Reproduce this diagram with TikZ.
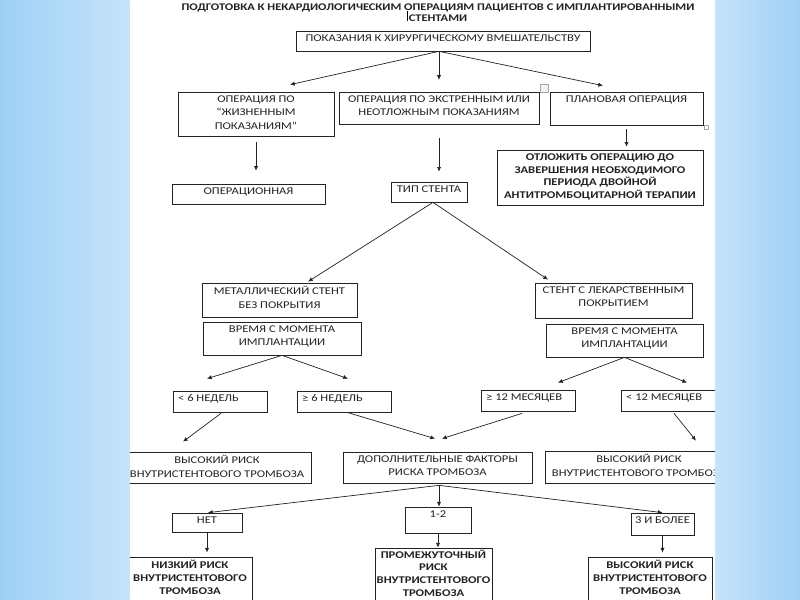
\documentclass[tikz,border=0pt]{standalone}
\usepackage{fontspec}
\setmainfont{Carlito}[FakeStretch=1.22]
\usetikzlibrary{fit,arrows.meta}
\definecolor{slideblue}{RGB}{158,208,246}
\definecolor{slidelight}{RGB}{198,227,250}
\definecolor{inkgray}{RGB}{35,35,35}

\tikzset{
  box/.style={draw=inkgray, line width=0.6pt, inner sep=0pt},
  txt/.style={font=\fontsize{8.8}{11.6}\selectfont, text=inkgray, align=center, inner sep=1.5pt, anchor=north, yshift=-1.5pt},
  btxt/.style={txt, font=\fontsize{8.8}{11}\selectfont\bfseries},
  ltxt/.style={txt, anchor=north west, xshift=3pt},
  arr/.style={draw=inkgray, line width=0.6pt, -{Latex[length=4pt,width=3.6pt]}},
}

\begin{document}
\begin{tikzpicture}[x=0.3mm,y=-0.3mm]
\useasboundingbox (0,0) rectangle (800,600);
\fill[white] (0,0) rectangle (800,600);

\node[btxt, font=\fontsize{8.7}{9.6}\selectfont\bfseries] (titl) at (438,0) {ПОДГОТОВКА К НЕКАРДИОЛОГИЧЕСКИМ ОПЕРАЦИЯМ ПАЦИЕНТОВ С ИМПЛАНТИРОВАННЫМИ\\СТЕНТАМИ};
\draw[line width=0.8pt] (407,11) -- (407,21);

% indications
\node[box, fit={(296,31) (590,51)}, label={[txt]north:ПОКАЗАНИЯ К ХИРУРГИЧЕСКОМУ ВМЕШАТЕЛЬСТВУ}] (pokaz) {};
\node[box, fit={(178,92) (334,136)}, label={[txt]north:{ОПЕРАЦИЯ ПО\\“ЖИЗНЕННЫМ\\ПОКАЗАНИЯМ”}}] (zhizn) {};
\node[box, fit={(339,92) (539,124)}, label={[txt]north:{ОПЕРАЦИЯ ПО ЭКСТРЕННЫМ ИЛИ\\НЕОТЛОЖНЫМ ПОКАЗАНИЯМ}}] (ekstr) {};
\node[box, fit={(550,92) (703,125)}, label={[txt]north:ПЛАНОВАЯ ОПЕРАЦИЯ}] (plan) {};
\draw[gray!70, fill=blue!6] (540,84) rectangle (548,92);
\draw[gray!70, fill=white] (704,125) rectangle (708,129);

\node[box, fit={(172,184) (325,204)}, label={[txt]north:ОПЕРАЦИОННАЯ}] (operac) {};
\node[box, fit={(391,182) (467,202)}, label={[txt]north:ТИП СТЕНТА}] (tip) {};
\node[box, fit={(497,150) (703,205)}, label={[btxt]north:{ОТЛОЖИТЬ ОПЕРАЦИЮ ДО\\ЗАВЕРШЕНИЯ НЕОБХОДИМОГО\\ПЕРИОДА ДВОЙНОЙ\\АНТИТРОМБОЦИТАРНОЙ ТЕРАПИИ}}] (otlozh) {};

% stent type
\node[box, fit={(202,283) (357,317)}, label={[txt]north:{МЕТАЛЛИЧЕСКИЙ СТЕНТ\\БЕЗ ПОКРЫТИЯ}}] (metall) {};
\node[box, fit={(203,322) (361,355)}, label={[txt]north:{ВРЕМЯ С МОМЕНТА\\ИМПЛАНТАЦИИ}}] (vremL) {};
\node[box, fit={(535,283) (692,318)}, label={[txt]north:{СТЕНТ С ЛЕКАРСТВЕННЫМ\\ПОКРЫТИЕМ}}] (lek) {};
\node[box, fit={(546,324) (703,357)}, label={[txt]north:{ВРЕМЯ С МОМЕНТА\\ИМПЛАНТАЦИИ}}] (vremR) {};

% time since implantation
\node[box, fit={(173,391) (267,412)}, label={[ltxt]north west:{< 6 НЕДЕЛЬ}}] (lt6) {};
\node[box, fit={(297,391) (391,412)}, label={[ltxt]north west:{≥ 6 НЕДЕЛЬ}}] (ge6) {};
\node[box, fit={(481,390) (575,411)}, label={[ltxt]north west:{≥ 12 МЕСЯЦЕВ}}] (ge12) {};
\node[box, fit={(621,390) (715,411)}, label={[ltxt]north west:{< 12 МЕСЯЦЕВ}}] (lt12) {};

\node[box, fit={(123,452) (311,483)}, label={[txt]north:{ВЫСОКИЙ РИСК\\ВНУТРИСТЕНТОВОГО ТРОМБОЗА}}] (vysL) {};
\node[box, fit={(343,452) (532,483)}, label={[txt]north:{ДОПОЛНИТЕЛЬНЫЕ ФАКТОРЫ\\РИСКА ТРОМБОЗА}}] (dop) {};
\node[box, fit={(545,451) (733,483)}, label={[txt]north:{ВЫСОКИЙ РИСК\\ВНУТРИСТЕНТОВОГО ТРОМБОЗА}}] (vysR) {};

% risk factors
\node[box, fit={(172,513) (242,532)}, label={[txt]north:НЕТ}] (net) {};
\node[box, fit={(405,507) (471,533)}, label={[txt]north:1-2}] (odin) {};
\node[box, fit={(631,513) (694,535)}, label={[txt]north:3 И БОЛЕЕ}] (tri) {};

\node[box, fit={(128,557) (252,610)}, label={[btxt]north:{НИЗКИЙ РИСК\\ВНУТРИСТЕНТОВОГО\\ТРОМБОЗА}}] (nizk) {};
\node[box, fit={(375,548) (492,610)}, label={[btxt,yshift=1.5pt]north:{ПРОМЕЖУТОЧНЫЙ\\РИСК\\ВНУТРИСТЕНТОВОГО\\ТРОМБОЗА}}] (prom) {};
\node[box, fit={(588,557) (712,610)}, label={[btxt]north:{ВЫСОКИЙ РИСК\\ВНУТРИСТЕНТОВОГО\\ТРОМБОЗА}}] (vysB) {};

% arrows
\coordinate (pk) at ([shift={(-4,0)}]pokaz.south);
\draw[arr] (pk) -- ([shift={(34,-7)}]zhizn.north);
\draw[arr, shorten >=10pt] (pk) -- (pk |- ekstr.north);
\draw[arr] (pk) -- ([shift={(-23.5,-6)}]plan.north);
\draw[arr, shorten <=5pt, shorten >=11pt] (zhizn.south) -- (zhizn.south |- operac.north);
\draw[arr, shorten <=12pt, shorten >=8.5pt] (ekstr.south) -- (ekstr.south |- tip.north);
\draw[arr, shorten <=3.5pt, shorten >=2.5pt] (plan.south) -- (plan.south |- otlozh.north);

\coordinate (tp) at ([shift={(4,0)}]tip.south);
\draw[arr] (tp) -- ([shift={(28.5,-1)}]metall.north);
\draw[arr] (tp) -- ([shift={(-65.5,-3)}]lek.north);

\draw[arr] (vremL.south) -- ([shift={(-13,-12)}]lt6.north);
\draw[arr] (vremL.south) -- ([shift={(4,-12)}]ge6.north);
\draw[arr] (vremR.south) -- ([shift={(30,-7)}]ge12.north);
\draw[arr] (vremR.south) -- ([shift={(19,-7)}]lt12.north);

\draw[arr] ([shift={(1,1)}]lt6.south) -- ([shift={(-34,-10)}]vysL.north);
\draw[arr] ([shift={(3,0)}]ge6.south) -- ([shift={(-2.5,-13)}]dop.north);
\draw[arr] ([shift={(-6,2)}]ge12.south) -- ([shift={(4.5,-13)}]dop.north);
\draw[arr] ([shift={(6,2)}]lt12.south) -- ([shift={(57,-10)}]vysR.north);

\coordinate (dp) at ([shift={(1.5,2)}]dop.south);
\draw[arr] (dp) -- ([shift={(1,0)}]net.north);
\draw[arr] (dp) -- (dp |- odin.north);
\draw[arr] (dp) -- (tri.north);
\draw[arr, shorten >=3.5pt] (net.south) -- (net.south |- nizk.north);
\draw[arr] (odin.south) -- (odin.south |- prom.north);
\draw[arr, shorten >=3.5pt] (tri.south) -- (tri.south |- vysB.north);

% slide background
\shade[left color=slideblue, right color=slidelight] (0,0) rectangle (129.5,600);
\shade[left color=slidelight, right color=slideblue] (715.5,0) rectangle (800,600);
\end{tikzpicture}
\end{document}
